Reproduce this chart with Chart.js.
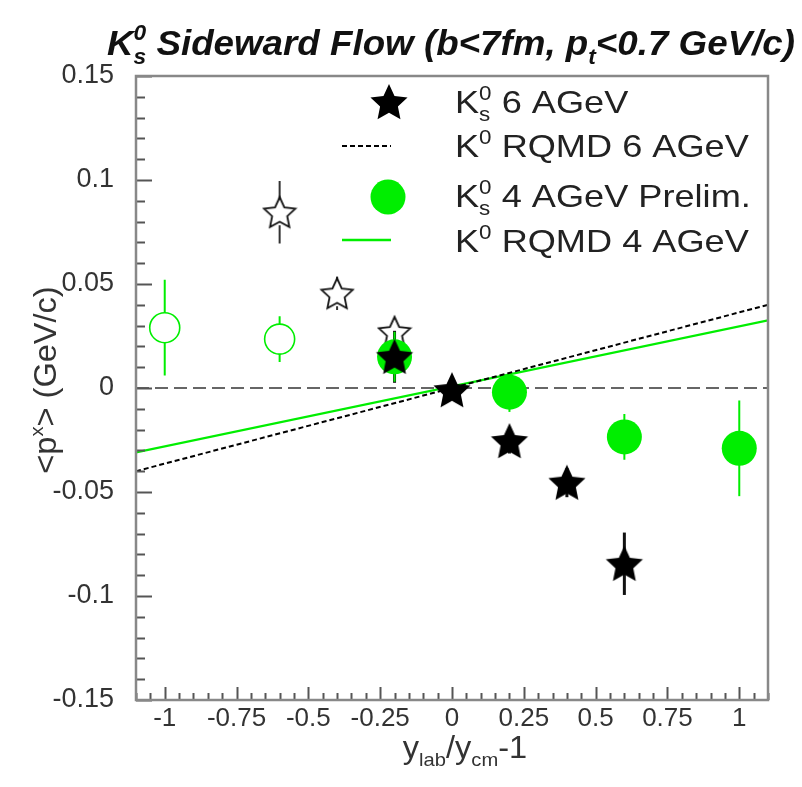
<!DOCTYPE html>
<html>
<head>
<meta charset="utf-8">
<title>K0s sideward flow</title>
<script src="https://cdn.jsdelivr.net/npm/chart.js@4.4.1/dist/chart.umd.min.js"></script>
<style>
    html, body { margin: 0; padding: 0; background: #fff; }
    #flowChart { display: block; }
</style>
</head>
<body>
<canvas id="flowChart" width="802" height="787"></canvas>
<script>
// axis ticks
const xTicks = [-1, -0.75, -0.5, -0.25, 0, 0.25, 0.5, 0.75, 1];
const xTickLabels = ['-1', '-0.75', '-0.5', '-0.25', '0', '0.25', '0.5', '0.75', '1'];
const yTicks = [-0.15, -0.1, -0.05, 0, 0.05, 0.1, 0.15];
const yTickLabels = ['-0.15', '-0.1', '-0.05', '0', '0.05', '0.1', '0.15'];

// K0s 6 AGeV (measured side)
const k6Rap = [-0.2, 0, 0.2, 0.4, 0.6];
const k6Px = [0.015, -0.001, -0.0255, -0.0455, -0.0845];
const k6Err = [0.0125, 0.004, 0.006, 0.007, 0.015];

// K0s 6 AGeV reflected points
const k6RefRap = [-0.6, -0.4, -0.2];
const k6RefPx = [0.0845, 0.0455, 0.027];
const k6RefErr = [0.015, 0.008, 0.006];

// K0s 4 AGeV preliminary
const k4Rap = [-0.2, 0.2, 0.6, 1.0];
const k4Px = [0.015, -0.002, -0.0235, -0.029];
const k4Err = [0.012, 0.0095, 0.011, 0.023];

// K0s 4 AGeV reflected points
const k4RefRap = [-1.0, -0.6];
const k4RefPx = [0.029, 0.0235];
const k4RefErr = [0.023, 0.011];

// RQMD lines
const rqmdRap = [-1.1, 1.1];
const rqmd6Px = [-0.040, 0.040];
const rqmd4Px = [-0.031, 0.0325];

const FONT = "'Liberation Sans', Arial, sans-serif";
const GREEN = '#00ee00';

function toPoints(xs, ys) {
    return xs.map((x, i) => ({ x: x, y: ys[i] }));
}

// five pointed star marker, filled or outlined
function makeStar(size, filled) {
    const c = document.createElement('canvas');
    c.width = size;
    c.height = size;
    const g = c.getContext('2d');
    const cx = size / 2, cy = size / 2 + 1.5;
    const ro = size / 2 - 1.5, ri = ro * 0.48;
    g.beginPath();
    for (let i = 0; i < 10; i++) {
        const r = i % 2 ? ri : ro;
        const a = -Math.PI / 2 + i * Math.PI / 5;
        g.lineTo(cx + r * Math.cos(a), cy + r * Math.sin(a));
    }
    g.closePath();
    if (filled) {
        g.fillStyle = '#000';
        g.fill();
    } else {
        g.strokeStyle = '#111';
        g.lineWidth = 1.8;
        g.stroke();
    }
    return c;
}

const starFilled = makeStar(42, true);
const starOpen = makeStar(36, false);

// text with sub/superscripts, parts: {t, s, dy, keep}
function drawRich(ctx, parts, x, y, opt) {
    const items = [];
    let pos = 0, pending = 0;
    parts.forEach(p => {
        const size = opt.size * (p.s || 1);
        const font = `${opt.style || ''} ${opt.weight || ''} ${size}px ${FONT}`;
        ctx.font = font;
        const w = ctx.measureText(p.t).width;
        items.push({ t: p.t, font: font, x: pos, dy: (p.dy || 0) * opt.size });
        if (p.keep) {
            pending = Math.max(pending, w);
        } else {
            pos += Math.max(w, pending);
            pending = 0;
        }
    });
    const sx = opt.sx || 1;
    ctx.save();
    ctx.translate(x, y);
    if (opt.rotate) ctx.rotate(opt.rotate);
    ctx.scale(sx, 1);
    let start = 0;
    if (opt.align === 'center') start = -pos / 2;
    ctx.fillStyle = opt.color || '#000';
    ctx.textBaseline = 'alphabetic';
    ctx.textAlign = 'left';
    items.forEach(it => {
        ctx.font = it.font;
        ctx.fillText(it.t, start + it.x, it.dy);
    });
    ctx.restore();
}

const SUP = { s: 0.62, dy: -0.42 };
const SUB = { s: 0.62, dy: 0.25 };

// vertical error bars, leaving a gap for hollow markers
const errorBars = {
    id: 'errorBars',
    beforeDatasetsDraw(chart) {
        const { ctx, scales: { x, y } } = chart;
        chart.data.datasets.forEach(ds => {
            if (!ds.errors) return;
            ctx.save();
            ctx.strokeStyle = ds.errorColor;
            ctx.lineWidth = ds.errorWidth;
            ds.data.forEach((p, j) => {
                const px = x.getPixelForValue(p.x);
                const py = y.getPixelForValue(p.y);
                const top = y.getPixelForValue(p.y + ds.errors[j]);
                const bot = y.getPixelForValue(p.y - ds.errors[j]);
                const gap = ds.errorGap || 0;
                ctx.beginPath();
                if (gap) {
                    if (py - gap > top) { ctx.moveTo(px, top); ctx.lineTo(px, py - gap); }
                    if (py + gap < bot) { ctx.moveTo(px, py + gap); ctx.lineTo(px, bot); }
                } else {
                    ctx.moveTo(px, top);
                    ctx.lineTo(px, bot);
                }
                ctx.stroke();
            });
            ctx.restore();
        });
    }
};

// frame, inner tick marks, zero line, titles and legend
const decorations = {
    id: 'decorations',
    beforeDatasetsDraw(chart) {
        const { ctx, chartArea: a, scales: { y } } = chart;
        const y0 = y.getPixelForValue(0);
        ctx.save();
        ctx.strokeStyle = '#666';
        ctx.lineWidth = 2;
        ctx.setLineDash([13, 6]);
        ctx.beginPath();
        ctx.moveTo(a.left, y0);
        ctx.lineTo(a.right, y0);
        ctx.stroke();
        ctx.restore();
    },
    afterDraw(chart) {
        const { ctx, chartArea: a, scales: { x, y } } = chart;
        ctx.save();

        // ticks on the left axis
        ctx.strokeStyle = '#555';
        ctx.lineWidth = 2;
        for (let i = -15; i <= 15; i++) {
            const py = Math.round(y.getPixelForValue(i / 100)) + 0.5;
            const len = i % 5 === 0 ? 16 : 9;
            ctx.beginPath();
            ctx.moveTo(a.left, py);
            ctx.lineTo(a.left + len, py);
            ctx.stroke();
        }
        // ticks on the bottom axis
        for (let i = -22; i <= 22; i++) {
            const px = Math.round(x.getPixelForValue(i / 20)) + 0.5;
            const len = i % 5 === 0 ? 13 : 7;
            ctx.beginPath();
            ctx.moveTo(px, a.bottom);
            ctx.lineTo(px, a.bottom - len);
            ctx.stroke();
        }

        // frame
        ctx.strokeStyle = '#888';
        ctx.lineWidth = 2.5;
        ctx.strokeRect(a.left, a.top, a.right - a.left, a.bottom - a.top);

        // title
        drawRich(ctx, [
            { t: 'K' }, { t: '0', ...SUP, keep: true }, { t: 's', ...SUB },
            { t: ' Sideward Flow (b<7fm, p' }, { t: 't', ...SUB }, { t: '<0.7 GeV/c)' }
        ], 107, 55, { size: 35, weight: 'bold', style: 'italic', color: '#111', sx: 1.05 });

        // axis titles
        drawRich(ctx, [
            { t: 'y' }, { t: 'lab', ...SUB }, { t: '/y' }, { t: 'cm', ...SUB }, { t: '-1' }
        ], 465, 758, { size: 31, color: '#333', align: 'center', sx: 1.05 });
        drawRich(ctx, [
            { t: '<p' }, { t: 'x', ...SUP }, { t: '> (GeV/c)' }
        ], 56, 380, { size: 31, color: '#333', align: 'center', rotate: -Math.PI / 2, sx: 1.05 });

        // legend
        const mx = 389, lx0 = 342, lx1 = 391, tx = 455;
        ctx.drawImage(starFilled, mx - 21, 102 - 21, 42, 42);

        ctx.strokeStyle = '#000';
        ctx.lineWidth = 2;
        ctx.setLineDash([5, 3]);
        ctx.beginPath();
        ctx.moveTo(lx0, 146);
        ctx.lineTo(lx1, 146);
        ctx.stroke();
        ctx.setLineDash([]);

        ctx.fillStyle = GREEN;
        ctx.beginPath();
        ctx.arc(mx - 1, 197, 17.5, 0, Math.PI * 2);
        ctx.fill();

        ctx.strokeStyle = GREEN;
        ctx.lineWidth = 2.5;
        ctx.beginPath();
        ctx.moveTo(lx0, 240);
        ctx.lineTo(lx1, 240);
        ctx.stroke();

        const legendFont = { size: 32, color: '#222', sx: 1.13 };
        drawRich(ctx, [{ t: 'K' }, { t: '0', ...SUP, keep: true }, { t: 's', ...SUB }, { t: ' 6 AGeV' }], tx, 113, legendFont);
        drawRich(ctx, [{ t: 'K' }, { t: '0', ...SUP }, { t: ' RQMD 6 AGeV' }], tx, 157, legendFont);
        drawRich(ctx, [{ t: 'K' }, { t: '0', ...SUP, keep: true }, { t: 's', ...SUB }, { t: ' 4 AGeV Prelim.' }], tx, 207, legendFont);
        drawRich(ctx, [{ t: 'K' }, { t: '0', ...SUP }, { t: ' RQMD 4 AGeV' }], tx, 252, legendFont);

        ctx.restore();
    }
};

const ctx = document.getElementById('flowChart').getContext('2d');

const flowChart = new Chart(ctx, {
    type: 'scatter',
    data: {
        datasets: [
            {
                label: 'K0s 6 AGeV',
                data: toPoints(k6Rap, k6Px),
                errors: k6Err,
                errorColor: '#111',
                errorWidth: 3,
                pointStyle: starFilled,
                order: 0
            },
            {
                label: 'K0s 4 AGeV Prelim.',
                data: toPoints(k4Rap, k4Px),
                errors: k4Err,
                errorColor: GREEN,
                errorWidth: 2,
                pointStyle: 'circle',
                pointRadius: 17.5,
                backgroundColor: GREEN,
                borderWidth: 0,
                order: 1
            },
            {
                label: 'K0s 6 AGeV reflected',
                data: toPoints(k6RefRap, k6RefPx),
                errors: k6RefErr,
                errorColor: '#333',
                errorWidth: 2,
                errorGap: 13,
                pointStyle: starOpen,
                order: 2
            },
            {
                label: 'K0s 4 AGeV reflected',
                data: toPoints(k4RefRap, k4RefPx),
                errors: k4RefErr,
                errorColor: GREEN,
                errorWidth: 2,
                errorGap: 15,
                pointStyle: 'circle',
                pointRadius: 15,
                backgroundColor: 'rgba(0,0,0,0)',
                borderColor: GREEN,
                borderWidth: 1.6,
                order: 3
            },
            {
                label: 'K0 RQMD 6 AGeV',
                data: toPoints(rqmdRap, rqmd6Px),
                showLine: true,
                borderColor: '#000',
                borderWidth: 2,
                borderDash: [5, 3],
                pointRadius: 0,
                order: 4
            },
            {
                label: 'K0 RQMD 4 AGeV',
                data: toPoints(rqmdRap, rqmd4Px),
                showLine: true,
                borderColor: GREEN,
                borderWidth: 2.2,
                pointRadius: 0,
                order: 5
            }
        ]
    },
    options: {
        responsive: false,
        animation: false,
        events: [],
        layout: {
            padding: { top: 76, right: 34, left: 0, bottom: 0 }
        },
        plugins: {
            legend: { display: false },
            tooltip: { enabled: false },
            title: { display: false }
        },
        scales: {
            x: {
                type: 'linear',
                min: -1.1,
                max: 1.1,
                grid: { display: false, drawTicks: false },
                border: { display: false },
                afterBuildTicks: (scale) => {
                    scale.ticks = xTicks.map(v => ({ value: v }));
                },
                afterFit: (scale) => {
                    scale.height = 87;
                },
                ticks: {
                    autoSkip: false,
                    maxRotation: 0,
                    padding: 3,
                    color: '#333',
                    font: { family: FONT, size: 26 },
                    callback: (value) => xTickLabels[xTicks.indexOf(value)]
                }
            },
            y: {
                type: 'linear',
                min: -0.15,
                max: 0.15,
                grid: { display: false, drawTicks: false },
                border: { display: false },
                afterBuildTicks: (scale) => {
                    scale.ticks = yTicks.map(v => ({ value: v }));
                },
                afterFit: (scale) => {
                    scale.width = 136;
                },
                ticks: {
                    autoSkip: false,
                    padding: 22,
                    color: '#333',
                    font: { family: FONT, size: 27 },
                    callback: (value) => yTickLabels[yTicks.indexOf(value)]
                }
            }
        }
    },
    plugins: [errorBars, decorations]
});
</script>
</body>
</html>
